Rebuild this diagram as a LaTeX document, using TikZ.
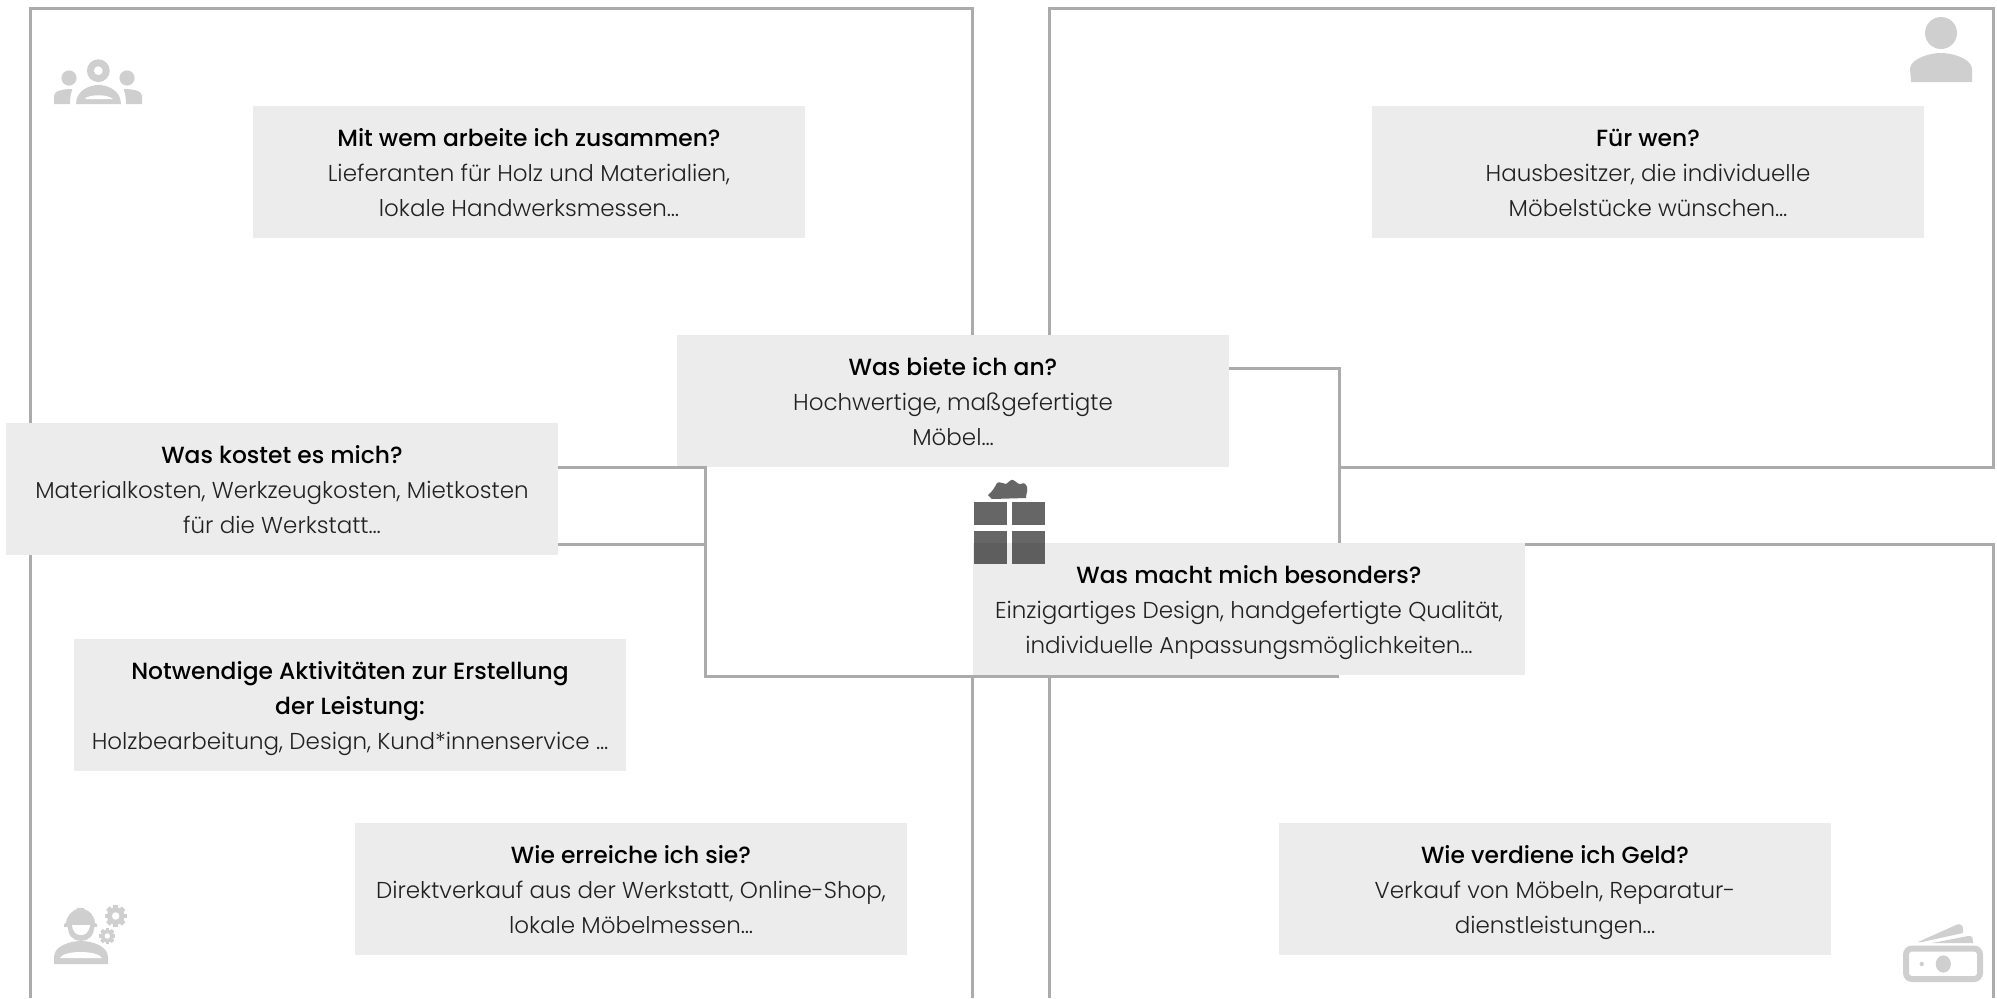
\documentclass[tikz,border=0pt]{standalone}
\usepackage{fontspec}
\setmainfont{Poppins}[UprightFont=* Light,BoldFont=* Medium]
\usetikzlibrary{calc}
\definecolor{boxgrey}{HTML}{ECECEC}
\definecolor{framegrey}{HTML}{ABABAB}
\definecolor{icongrey}{HTML}{CFCFCF}
\definecolor{giftgrey}{HTML}{666666}
\definecolor{giftdark}{HTML}{5E5E5E}
\newcommand{\tl}[1]{{\fontsize{11.7pt}{17.5pt}\selectfont\bfseries\color{black} #1}}
\tikzset{
  card/.style={fill=boxgrey,minimum width=276pt,minimum height=66pt,inner sep=0pt,align=center,text={black!87},font=\fontsize{11.5pt}{17.5pt}\selectfont,
    execute at begin node={\rule{0pt}{49pt}},execute at end node={\rule[-4.4pt]{0pt}{4.4pt}}},
  frame/.style={draw=framegrey,line width=1.5pt,line join=miter},
  conn/.style={draw=framegrey,line width=1.5pt},
  icon/.style={fill=icongrey,draw=none},
  hole/.style={fill=white,draw=none}
}
\newcommand{\gear}[3]{%
  \foreach \a in {0,45,...,315}{\fill[icongrey,rotate around={\a:(#1,#2)}] ($(#1,#2)+(-#3*0.22,-#3)$) rectangle ($(#1,#2)+(#3*0.22,#3)$);}
  \fill[icongrey] (#1,#2) circle[radius=#3*0.40pt];
  \fill[white] (#1,#2) circle[radius=#3*0.17pt];
}
\begin{document}
\begin{tikzpicture}[x=0.5pt,y=-0.5pt]
\useasboundingbox (0,0) rectangle (1997,998);
% quadrants
\draw[frame] (30,998) -- (30,8) -- (972,8) -- (972,340);
\draw[frame] (972,676) -- (972,998);
\draw[frame] (1049,340) -- (1049,8) -- (1993,8) -- (1993,467) -- (1339,467);
\draw[frame] (1049,998) -- (1049,676);
\draw[frame] (1500,544) -- (1993,544) -- (1993,998);
% cards
\node[card] (wem) at (529,172) {\tl{Mit wem arbeite ich zusammen?}\\Lieferanten für Holz und Materialien,\\lokale Handwerksmessen…};
\node[card] (fuer) at (1648,172) {\tl{Für wen?}\\Hausbesitzer, die individuelle\\Möbelstücke wünschen…};
\node[card] (biete) at (953,400.5) {\tl{Was biete ich an?}\\Hochwertige, maßgefertigte\\Möbel…};
\node[card] (kostet) at (282,489) {\tl{Was kostet es mich?}\\Materialkosten, Werkzeugkosten, Mietkosten\\für die Werkstatt…};
\node[card] (taet) at (350,705) {\tl{Notwendige Aktivitäten zur Erstellung}\\\tl{der Leistung:}\\Holzbearbeitung, Design, Kund*innenservice …};
\node[card] (reich) at (631,889) {\tl{Wie erreiche ich sie?}\\Direktverkauf aus der Werkstatt, Online-Shop,\\lokale Möbelmessen…};
\node[card] (geld) at (1555,889) {\tl{Wie verdiene ich Geld?}\\Verkauf von Möbeln, Reparatur-\\dienstleistungen...};
% connectors
\coordinate (k1) at (kostet.east |- 0,467);
\coordinate (k2) at (kostet.east |- 0,544);
\coordinate (b1) at (biete.east |- 0,368);
\coordinate (vl) at (705,467);
\coordinate (vlb) at (705,544);
\coordinate (lb) at (705,676);
\coordinate (rb) at (1339,676);
\coordinate (vr) at (1339,368);
\coordinate (vre) at (1339,544);
\draw[conn] (k1) -- (vl) -- (lb) -- (rb);
\draw[conn] (k2) -- (vlb);
\draw[conn] (b1) -- (vr) -- (vre);
\node[card] (macht) at (1249,609) {\tl{Was macht mich besonders?}\\Einzigartiges Design, handgefertigte Qualität,\\individuelle Anpassungsmöglichkeiten…};
% gift icon
\fill[giftgrey] (988,495) .. controls (992,492) and (995,487) .. (997,483) .. controls (1000,481) and (1003,484) .. (1006,484)
  .. controls (1009,482) and (1011,479) .. (1013,480) .. controls (1016,481) and (1018,485) .. (1021,484) .. controls (1024,482) and (1026,484) .. (1027,487)
  .. controls (1028,491) and (1026,494) .. (1026,498) -- (992,499) -- cycle;
\fill[giftgrey] (974,502) rectangle (1007,525);
\fill[giftgrey] (1012,502) rectangle (1045,525);
\fill[giftgrey] (974,531) rectangle (1007,543);
\fill[giftgrey] (1012,531) rectangle (1045,543);
\fill[giftdark] (974,543) rectangle (1007,564);
\fill[giftdark] (1012,543) rectangle (1045,564);
% team icon
\fill[icon] (98.3,70.7) circle[radius=5.7pt];
\fill[hole] (98.3,70.7) circle[radius=2.2pt];
\fill[icon] (69,78) circle[radius=3.8pt];
\fill[icon] (127,78) circle[radius=3.8pt];
\fill[icon] (76,104) .. controls (76,90) and (90,85) .. (98.5,85) .. controls (107,85) and (121,90) .. (121,104) -- cycle;
\fill[hole] (85,99) .. controls (88,94) and (108,94) .. (113,99) -- cycle;
\fill[icon] (54,104) -- (54,96) .. controls (54,91) and (62,89) .. (72,89) .. controls (73,90) and (70,92) .. (70,104) -- cycle;
\fill[icon] (142,104) -- (142,96) .. controls (142,91) and (134,89) .. (124,89) .. controls (123,90) and (126,92) .. (126,104) -- cycle;
% person icon
\fill[icon] (1941,33) circle[radius=8pt];
\fill[icon] (1911,82) -- (1910,68) .. controls (1912,58) and (1930,53) .. (1941,53) .. controls (1952,53) and (1970,58) .. (1972,68) -- (1972,82) -- cycle;
% worker icon
\fill[icon] (66,923) .. controls (67,915) and (72,911) .. (77,909) -- (77,908) -- (84,908) -- (84,909) .. controls (90,911) and (94,915) .. (95,923) -- (97,924) -- (97,927) -- (64,927) -- (64,924) -- cycle;
\fill[icon] (68,925) .. controls (67,936) and (74,941) .. (81,941) .. controls (88,941) and (95,936) .. (94,925) -- cycle;
\fill[hole] (72,925) .. controls (73,933) and (77,935) .. (81,935) .. controls (85,935) and (89,933) .. (90,925) -- cycle;
\fill[icon] (54,964) -- (54,957) .. controls (54,946) and (70,941) .. (81,941) .. controls (92,941) and (108,946) .. (108,957) -- (108,964) -- cycle;
\fill[hole] (60,958) .. controls (63,950) and (98,950) .. (102,958) -- cycle;
\gear{115.7}{916}{11}
\gear{107.3}{936}{8}
% money icon
\draw[icongrey,line width=3pt,rounded corners=3pt] (1906,948.5) rectangle (1980,979);
\fill[icon] (1943.3,964) ellipse[x radius=3.8pt,y radius=4.3pt];
\fill[icon] (1921.7,964) circle[radius=1.1pt];
\fill[icon] (1918,942) -- (1956,925) .. controls (1960,923) and (1963,925) .. (1963,929) -- (1963,933) -- (1922,942) -- cycle;
\fill[icon] (1932,943) -- (1968,936) .. controls (1972,935) and (1973,938) .. (1973,943) -- cycle;
\end{tikzpicture}
\end{document}
